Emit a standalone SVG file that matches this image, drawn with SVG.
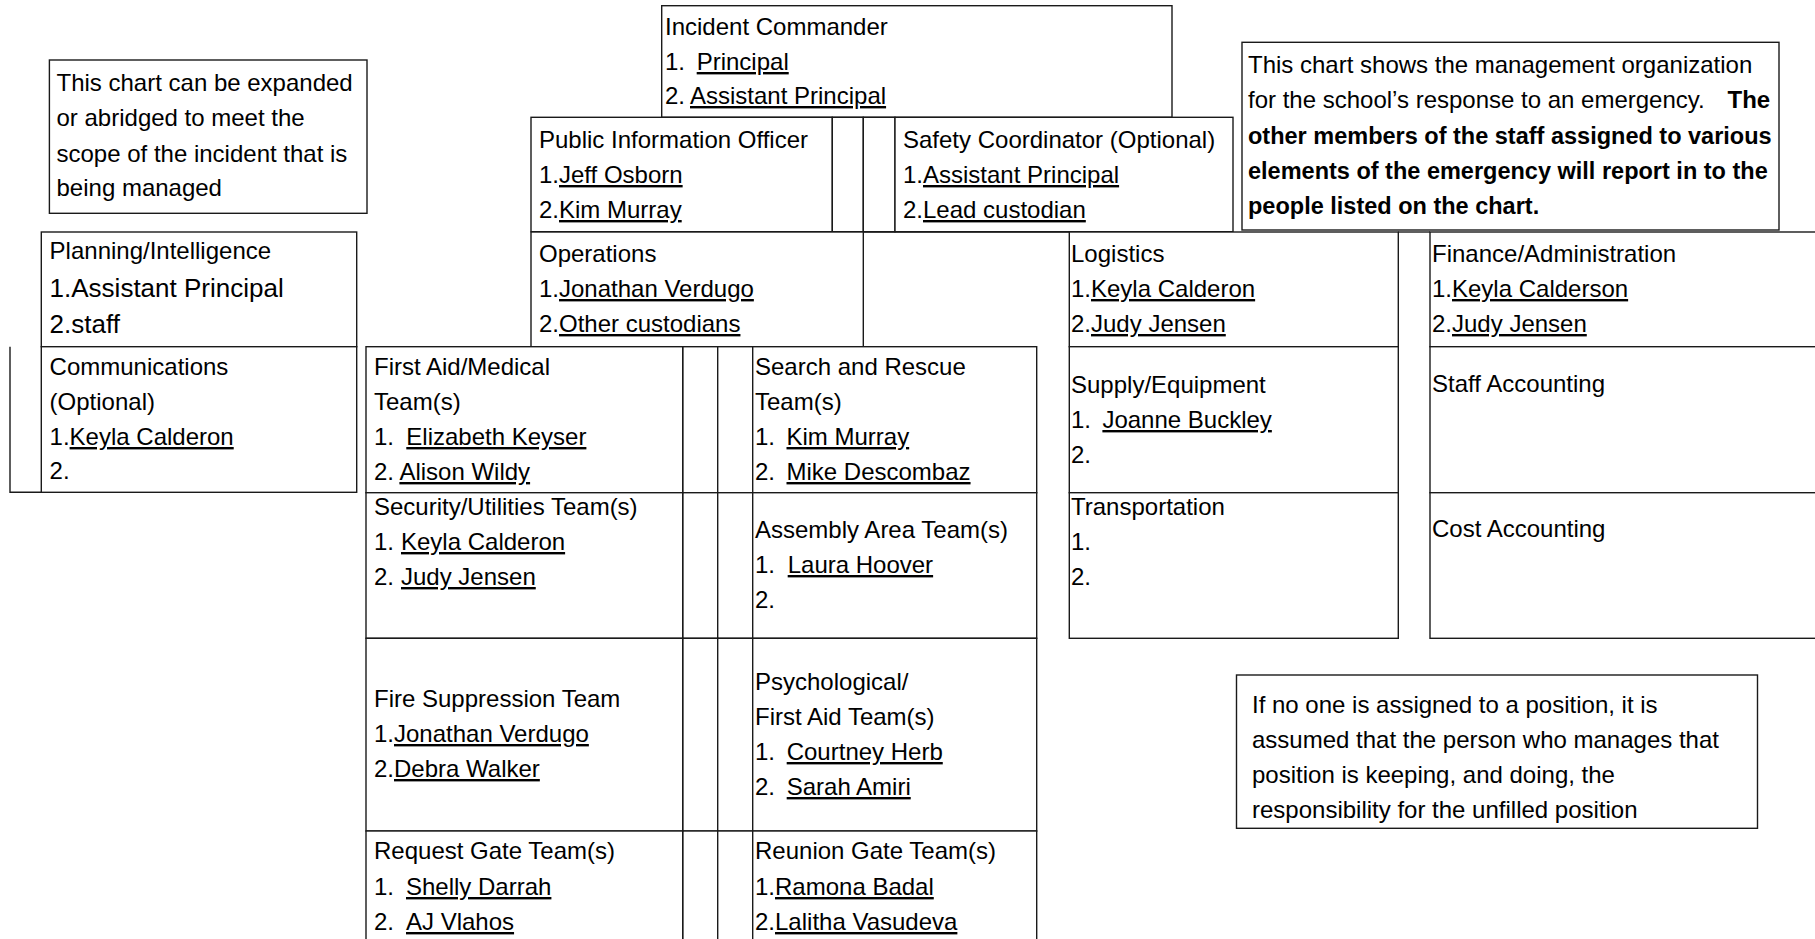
<svg xmlns="http://www.w3.org/2000/svg" width="1815" height="939" viewBox="0 0 1815 939" xml:space="preserve">
<style>
.b{fill:#fff;stroke:#1a1a1a;stroke-width:1.4}
.l{fill:none;stroke:#1a1a1a;stroke-width:1.4}
text{font-family:"Liberation Sans",Arial,sans-serif;font-size:24px;fill:#000;white-space:pre}
.u{text-decoration:underline}
.bd{font-weight:bold}
.big{font-size:26px}
</style>
<rect width="1815" height="939" fill="#fff"/>

<g id="connectors">
<path class="l" d="M10,346.7 V492.3 H41.3"/>
<path class="l" d="M863.3,232 H1069.3"/>
<path class="l" d="M1398.3,232 H1430"/>
</g>

<g id="note-expand">
<rect class="b" x="49.4" y="60" width="317.6" height="153.3"/>
<text x="56.5" y="91">This chart can be expanded</text>
<text x="56.5" y="126">or abridged to meet the</text>
<text x="56.5" y="162">scope of the incident that is</text>
<text x="56.5" y="196">being managed</text>
</g>

<g id="incident-commander">
<rect class="b" x="661.7" y="5.7" width="510.3" height="111.6"/>
<text x="665" y="34.5">Incident Commander</text>
<text x="665" y="70">1.<tspan x="696.7" class="u">Principal</tspan></text>
<text x="665" y="104">2. <tspan x="690" class="u">Assistant Principal</tspan></text>
</g>

<g id="note-management">
<rect class="b" x="1242" y="42.3" width="537" height="187.7"/>
<text x="1248" y="73">This chart shows the management organization</text>
<text x="1248" y="108">for the school’s response to an emergency.<tspan x="1727.5" class="bd">The</tspan></text>
<text x="1248" y="144" class="bd" style="font-size:23.5px">other members of the staff assigned to various</text>
<text x="1248" y="179" class="bd" style="font-size:23.5px">elements of the emergency will report in to the</text>
<text x="1248" y="214" class="bd" style="font-size:23.5px">people listed on the chart.</text>
</g>

<g id="pio">
<rect class="b" x="531" y="117.3" width="301.3" height="114.4"/>
<text x="539" y="148">Public Information Officer</text>
<text x="539" y="183">1.<tspan class="u">Jeff Osborn</tspan></text>
<text x="539" y="218">2.<tspan class="u">Kim Murray</tspan></text>
</g>
<g id="pio-gap">
<rect class="b" x="832.3" y="117.3" width="31" height="114.4"/>
<rect class="b" x="863.3" y="117.3" width="31.7" height="114.4"/>
</g>
<g id="safety">
<rect class="b" x="895" y="117.3" width="338" height="114.4"/>
<text x="903" y="148">Safety Coordinator (Optional)</text>
<text x="903" y="183">1.<tspan class="u">Assistant Principal</tspan></text>
<text x="903" y="218">2.<tspan class="u">Lead custodian</tspan></text>
</g>

<g id="planning">
<rect class="b" x="41.3" y="232" width="315.4" height="114.7"/>
<text x="49.6" y="259">Planning/Intelligence</text>
<text x="49.6" y="297" class="big">1.Assistant Principal</text>
<text x="49.6" y="333" class="big">2.staff</text>
</g>
<g id="communications">
<rect class="b" x="41.3" y="346.7" width="315.4" height="145.6"/>
<text x="49.6" y="375">Communications</text>
<text x="49.6" y="410">(Optional)</text>
<text x="49.6" y="445">1.<tspan class="u">Keyla Calderon</tspan></text>
<text x="49.6" y="479">2.</text>
</g>

<g id="operations">
<rect class="b" x="531" y="232" width="332.3" height="114.7"/>
<text x="539" y="262">Operations</text>
<text x="539" y="297">1.<tspan class="u">Jonathan Verdugo</tspan></text>
<text x="539" y="332">2.<tspan class="u">Other custodians</tspan></text>
</g>

<g id="logistics">
<rect class="b" x="1069.3" y="232" width="329" height="114.7"/>
<text x="1071" y="262">Logistics</text>
<text x="1071" y="297">1.<tspan class="u">Keyla Calderon</tspan></text>
<text x="1071" y="332">2.<tspan class="u">Judy Jensen</tspan></text>
</g>
<g id="supply">
<rect class="b" x="1069.3" y="346.7" width="329" height="146"/>
<text x="1071" y="393">Supply/Equipment</text>
<text x="1071" y="428">1.  <tspan x="1102.4" class="u">Joanne Buckley</tspan></text>
<text x="1071" y="463">2.</text>
</g>
<g id="transportation">
<rect class="b" x="1069.3" y="492.7" width="329" height="145.6"/>
<text x="1071" y="515">Transportation</text>
<text x="1071" y="550">1.</text>
<text x="1071" y="585">2.</text>
</g>

<g id="finance">
<rect class="b" x="1430" y="232" width="400" height="114.7"/>
<text x="1432" y="262">Finance/Administration</text>
<text x="1432" y="297">1.<tspan class="u">Keyla Calderson</tspan></text>
<text x="1432" y="332">2.<tspan class="u">Judy Jensen</tspan></text>
</g>
<g id="staff-accounting">
<rect class="b" x="1430" y="346.7" width="400" height="146"/>
<text x="1432" y="392">Staff Accounting</text>
</g>
<g id="cost-accounting">
<rect class="b" x="1430" y="492.7" width="400" height="145.6"/>
<text x="1432" y="537">Cost Accounting</text>
</g>

<g id="ops-gaps">
<rect class="b" x="682.7" y="346.7" width="35" height="146"/>
<rect class="b" x="717.7" y="346.7" width="35" height="146"/>
<rect class="b" x="682.7" y="492.7" width="35" height="145.6"/>
<rect class="b" x="717.7" y="492.7" width="35" height="145.6"/>
<rect class="b" x="682.7" y="638.3" width="35" height="192.7"/>
<rect class="b" x="717.7" y="638.3" width="35" height="192.7"/>
<rect class="b" x="682.7" y="831" width="35" height="130"/>
<rect class="b" x="717.7" y="831" width="35" height="130"/>
</g>

<g id="first-aid">
<rect class="b" x="366" y="346.7" width="316.7" height="146"/>
<text x="374" y="375">First Aid/Medical</text>
<text x="374" y="410">Team(s)</text>
<text x="374" y="445">1.  <tspan x="406.3" class="u">Elizabeth Keyser</tspan></text>
<text x="374" y="480">2. <tspan x="399.4" class="u">Alison Wildy</tspan></text>
</g>
<g id="search-rescue">
<rect class="b" x="752.7" y="346.7" width="284" height="146"/>
<text x="755" y="375">Search and Rescue</text>
<text x="755" y="410">Team(s)</text>
<text x="755" y="445">1.  <tspan x="786.5" class="u">Kim Murray</tspan></text>
<text x="755" y="480">2.  <tspan x="786.5" class="u">Mike Descombaz</tspan></text>
</g>
<g id="security">
<rect class="b" x="366" y="492.7" width="316.7" height="145.6"/>
<text x="374" y="515">Security/Utilities Team(s)</text>
<text x="374" y="550">1. <tspan x="401" class="u">Keyla Calderon</tspan></text>
<text x="374" y="585">2. <tspan x="401" class="u">Judy Jensen</tspan></text>
</g>
<g id="assembly">
<rect class="b" x="752.7" y="492.7" width="284" height="145.6"/>
<text x="755" y="538">Assembly Area Team(s)</text>
<text x="755" y="573">1.  <tspan x="787.7" class="u">Laura Hoover</tspan></text>
<text x="755" y="608">2.</text>
</g>
<g id="fire-suppression">
<rect class="b" x="366" y="638.3" width="316.7" height="192.7"/>
<text x="374" y="707">Fire Suppression Team</text>
<text x="374" y="742">1.<tspan class="u">Jonathan Verdugo</tspan></text>
<text x="374" y="777">2.<tspan class="u">Debra Walker</tspan></text>
</g>
<g id="psychological">
<rect class="b" x="752.7" y="638.3" width="284" height="192.7"/>
<text x="755" y="690">Psychological/</text>
<text x="755" y="725">First Aid Team(s)</text>
<text x="755" y="760">1.  <tspan x="786.7" class="u">Courtney Herb</tspan></text>
<text x="755" y="795">2.  <tspan x="786.7" class="u">Sarah Amiri</tspan></text>
</g>
<g id="request-gate">
<rect class="b" x="366" y="831" width="316.7" height="130"/>
<text x="374" y="859">Request Gate Team(s)</text>
<text x="374" y="895">1.  <tspan x="406" class="u">Shelly Darrah</tspan></text>
<text x="374" y="930">2.  <tspan x="406" class="u">AJ Vlahos</tspan></text>
</g>
<g id="reunion-gate">
<rect class="b" x="752.7" y="831" width="284" height="130"/>
<text x="755" y="859">Reunion Gate Team(s)</text>
<text x="755" y="895">1.<tspan class="u">Ramona Badal</tspan></text>
<text x="755" y="930">2.<tspan class="u">Lalitha Vasudeva</tspan></text>
</g>

<g id="note-unfilled">
<rect class="b" x="1236.5" y="675" width="521" height="153.3"/>
<text x="1252" y="713">If no one is assigned to a position, it is</text>
<text x="1252" y="748">assumed that the person who manages that</text>
<text x="1252" y="783">position is keeping, and doing, the</text>
<text x="1252" y="818">responsibility for the unfilled position</text>
</g>
</svg>
